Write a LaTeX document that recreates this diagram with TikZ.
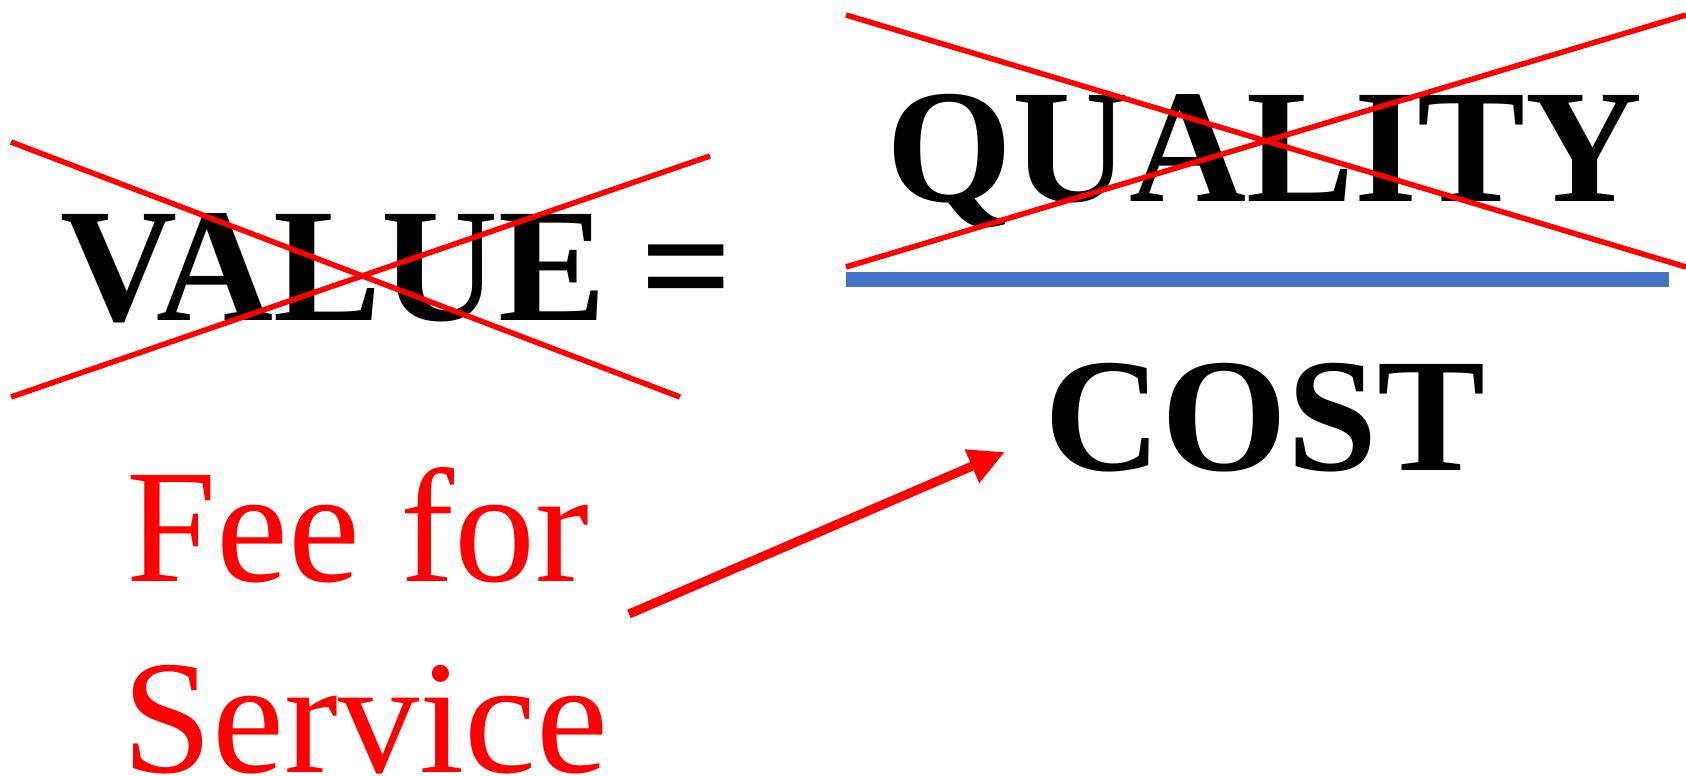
\documentclass[tikz,border=0pt]{standalone}
\usepackage{fontspec}
\setmainfont{Liberation Serif}
\usetikzlibrary{arrows.meta}
\definecolor{xred}{RGB}{255,0,0}
\definecolor{barblue}{RGB}{68,114,196}
\tikzset{
  bigbold/.style={inner sep=0pt, anchor=base west, font=\fontsize{162}{162}\selectfont\bfseries},
  bigred/.style={inner sep=0pt, anchor=base west, text=xred, font=\fontsize{162}{162}\selectfont},
  cross/.style={draw=xred, line width=5.5pt},
  bar/.style={draw=barblue, line width=15pt},
  redarrow/.style={draw=xred, line width=9pt, -{Triangle[length=36pt,width=34pt]}}
}
\begin{document}
\begin{tikzpicture}[x=1pt,y=-1pt]
\useasboundingbox (0,0) rectangle (1686,776);
\node[bigbold] (value) at (60,320) {VALUE};
\node[bigbold] (eq) at (640,320) {=};
\node[bigbold] (quality) at (886,201) {QUALITY};
\node[bigbold] (cost) at (1044,470) {COST};
\node[bigred] (fee) at (126,581) {Fee for};
\node[bigred] (service) at (122,772) {Service};
% crosses
\coordinate (a1) at (11,142); \coordinate (a2) at (680,397);
\coordinate (b1) at (11,397); \coordinate (b2) at (710,156);
\coordinate (c1) at (846,15); \coordinate (c2) at (1686,267);
\coordinate (d1) at (846,267); \coordinate (d2) at (1686,15);
\draw[cross] (a1) -- (a2);
\draw[cross] (b1) -- (b2);
\draw[cross] (c1) -- (c2);
\draw[cross] (d1) -- (d2);
% fraction bar
\coordinate (l1) at (846,279); \coordinate (l2) at (1669,279);
\draw[bar] (l1) -- (l2);
% arrow
\coordinate (s) at (629,614); \coordinate (e) at (1005,452);
\draw[redarrow] (s) -- (e);
\end{tikzpicture}
\end{document}
